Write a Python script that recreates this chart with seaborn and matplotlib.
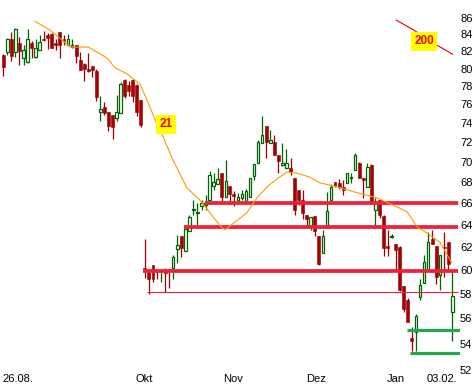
import matplotlib
matplotlib.use('Agg')
import matplotlib.pyplot as plt
import seaborn as sns
import pandas as pd
from matplotlib.ticker import FixedLocator, NullLocator

opens = [81.6, 81.9, 83.5, 81.9, 83.0, 81.2, 80.8, 83.0, 81.3, 82.2,
         83.5, 83.9, 84.1, 83.0, 84.3, 83.4, 82.7, 82.5, 82.8, 81.0,
         80.5, 80.0, 80.3, 79.7, 75.2, 75.7, 75.2, 74.9, 74.5, 75.1,
         78.7, 78.1, 78.7, 78.1, 76.5, 60.2, 59.8, 60.4, 60.0, 59.9,
         59.9, 60.1, 60.2, 61.8, 63.0, 61.6, 63.4, 65.4, 65.1, 65.7,
         65.8, 66.3, 67.6, 67.8, 68.9, 66.6, 67.6, 66.9, 66.3, 66.5,
         66.1, 66.6, 68.6, 69.9, 71.9, 73.7, 71.9, 72.0, 70.7, 69.7,
         69.4, 69.4, 68.4, 67.3, 66.3, 64.9, 63.8, 64.8, 63.0, 61.5,
         63.8, 66.3, 68.0, 67.9, 67.5, 67.9, 68.4, 69.2, 69.9, 68.4,
         67.5, 69.7, 65.4, 66.3, 64.8, 62.1, 62.9, 62.3, 62.0, 58.6,
         57.5, 54.4, 54.9, 57.7, 58.9, 60.0, 62.7, 62.1, 59.6, 62.0,
         62.4, 56.5]
highs = [81.7, 83.6, 84.3, 84.8, 83.7, 82.7, 84.7, 83.2, 83.4, 83.9,
         84.4, 84.2, 84.2, 83.5, 84.3, 83.9, 84.0, 83.4, 82.8, 81.9,
         80.6, 81.8, 80.3, 80.0, 76.9, 76.3, 75.2, 74.9, 77.0, 78.5,
         78.8, 78.6, 78.8, 78.3, 76.5, 62.7, 59.9, 60.4, 60.0, 60.1,
         60.2, 60.1, 61.3, 63.1, 63.0, 64.0, 64.9, 66.3, 66.0, 66.3,
         66.8, 69.1, 68.9, 69.4, 68.9, 70.2, 67.6, 67.2, 67.0, 67.3,
         67.4, 68.4, 69.8, 72.2, 74.8, 73.7, 73.3, 72.8, 70.7, 71.9,
         71.3, 70.4, 68.4, 67.3, 67.3, 64.9, 64.7, 64.8, 63.0, 63.5,
         67.1, 67.8, 68.0, 68.3, 68.2, 68.9, 68.9, 70.9, 70.0, 68.4,
         69.9, 69.8, 66.5, 66.4, 64.9, 63.5, 63.2, 62.3, 62.1, 58.6,
         57.6, 55.3, 56.3, 59.2, 61.3, 63.3, 63.5, 62.1, 61.3, 63.3,
         62.4, 60.0]
lows = [79.2, 81.6, 80.9, 81.3, 80.4, 80.4, 80.7, 81.2, 81.2, 82.2,
        83.2, 82.3, 82.4, 82.2, 81.2, 82.8, 82.7, 82.4, 80.6, 79.8,
        78.6, 79.6, 79.0, 76.4, 74.2, 74.9, 73.2, 72.3, 74.2, 75.1,
        76.7, 76.9, 76.3, 74.8, 73.6, 59.3, 58.0, 59.0, 59.2, 59.0,
        58.1, 58.5, 59.2, 60.6, 61.1, 61.6, 63.4, 64.9, 64.0, 65.4,
        65.4, 66.3, 67.3, 67.8, 66.1, 66.6, 66.1, 65.7, 66.1, 66.3,
        66.1, 66.6, 68.2, 69.9, 71.9, 70.4, 71.9, 70.7, 68.9, 69.6,
        69.4, 68.7, 64.9, 65.8, 64.5, 63.8, 63.5, 63.0, 60.4, 61.5,
        63.8, 66.3, 67.5, 67.4, 66.8, 67.9, 67.9, 69.2, 68.4, 66.5,
        67.5, 66.0, 63.7, 64.6, 61.2, 61.2, 62.8, 60.0, 58.2, 56.5,
        55.7, 53.4, 53.4, 57.5, 58.9, 60.0, 62.3, 58.8, 58.3, 59.4,
        60.0, 54.2]
closes = [80.2, 83.5, 81.5, 84.7, 82.0, 82.2, 83.5, 82.4, 82.4, 83.1,
          83.3, 83.6, 82.4, 82.8, 82.7, 83.2, 83.5, 82.7, 81.4, 79.8,
          80.0, 79.7, 79.8, 76.8, 75.5, 75.1, 73.7, 73.6, 75.2, 78.3,
          76.9, 77.5, 76.9, 75.2, 73.8, 59.9, 59.2, 59.2, 59.8, 60.0,
          59.7, 59.9, 61.1, 62.2, 61.9, 63.6, 64.7, 65.5, 65.2, 66.0,
          66.0, 68.7, 68.0, 68.3, 66.6, 68.1, 66.9, 66.7, 66.6, 66.9,
          67.2, 68.4, 69.8, 72.0, 72.8, 72.0, 72.2, 70.7, 70.1, 69.9,
          69.9, 69.0, 65.4, 66.3, 65.1, 64.5, 64.7, 63.4, 60.5, 63.0,
          65.3, 67.5, 67.6, 67.5, 67.3, 68.9, 68.5, 70.7, 68.4, 68.2,
          69.5, 66.1, 66.0, 64.9, 61.9, 61.9, 63.0, 61.7, 58.3, 56.7,
          55.7, 54.2, 56.2, 58.7, 60.7, 62.4, 62.3, 59.4, 61.3, 61.9,
          60.5, 57.8]

# gleitende Durchschnitte
ma21_idx = [7.8, 11.5, 14.5, 16.5, 21.0, 23.2, 25.7, 27.6, 30.6, 33.8,
            35.5, 38.0, 39.5, 41.95, 45.4, 48.6, 51.1, 53.6, 54.8, 56.8,
            60.2, 62.7, 65.2, 67.7, 70.1, 72.6, 75.8, 78.3, 82.5, 86.5,
            92.4, 97.3, 99.8, 102.3, 104.7, 107.96, 110.9]
ma21_val = [85.6, 84.55, 83.35, 82.5, 82.5, 81.9, 81.2, 80.1, 79.4, 78.25,
            76.5, 73.9, 72.55, 70.2, 67.45, 66.3, 65.1, 63.9, 63.55, 64.1,
            65.1, 66.5, 67.55, 68.35, 69.0, 68.9, 68.5, 67.95, 67.55, 67.1,
            66.5, 65.65, 65.2, 63.8, 63.25, 62.4, 60.6]
ma200_idx = [97.1, 101.4, 107.1, 111.1]
ma200_val = [85.75, 84.55, 82.75, 81.65]

# Unterstützungen / Widerstände
red_levels = [66.0, 63.8, 59.9]
red_from = [49.9, 44.7, 34.5]
thin_level = 58.1
thin_from = 35.5
green_levels = [55.05, 53.3]
green_from = [99.8, 100.5]

date_pos = [3.5, 34.9, 56.7, 77.3, 97.0, 108.4]
date_labels = ['26.08.', 'Okt', 'Nov', 'Dez', 'Jan', '03.02.']
y_ticks = list(range(52, 88, 2))

sns.set_style('white')
plt.rcParams['font.family'] = ['Liberation Sans', 'DejaVu Sans']

df = pd.DataFrame({'o': opens, 'h': highs, 'l': lows, 'c': closes})
df['i'] = range(len(df))
up = df['c'] >= df['o']
dn = ~up

fig = plt.figure(figsize=(4.74, 3.92), dpi=100)
ax = fig.add_axes([0, 0.0561, 0.9705, 0.9186])
ax.set_yscale('log')

# Dochte
ax.vlines(df['i'][up], df['l'][up], df['h'][up], color='#006400', lw=0.9, zorder=2)
ax.vlines(df['i'][dn], df['l'][dn], df['h'][dn], color='#a00000', lw=0.9, zorder=2)
# Kerzenkoerper
ax.bar(df['i'][up], (df['c'] - df['o'])[up], bottom=df['o'][up], width=0.62,
       facecolor='white', edgecolor='#006400', linewidth=0.9, zorder=3)
ax.bar(df['i'][dn], (df['o'] - df['c'])[dn], bottom=df['c'][dn], width=0.72,
       color='#a80000', edgecolor='#900000', linewidth=0.4, zorder=3)

# Linien
for lv, x0 in zip(red_levels, red_from):
    ax.hlines(lv, x0, 112.3, color='#f0203a', lw=2.7, zorder=4)
ax.hlines(thin_level, thin_from, 112.5, color='#f0203a', lw=0.8, zorder=4)
for lv, x0 in zip(green_levels, green_from):
    ax.hlines(lv, x0, 112.9, color='#22aa4a', lw=2.3, zorder=4)

sns.lineplot(x=ma21_idx, y=ma21_val, color='#ff9900', lw=0.8, ax=ax, zorder=5)
sns.lineplot(x=ma200_idx, y=ma200_val, color='#ee0000', lw=0.8, ax=ax, zorder=5)

ax.text(40.2, 73.9, '21', ha='center', va='center', color='#ff0000',
        fontweight='bold', fontsize=8.5, zorder=6,
        bbox=dict(boxstyle='square,pad=0.3', fc='#ffff00', ec='none'))
ax.text(104.0, 83.2, '200', ha='center', va='center', color='#ff0000',
        fontweight='bold', fontsize=8.5, zorder=6,
        bbox=dict(boxstyle='square,pad=0.3', fc='#ffff00', ec='none'))

ax.set_xlim(-0.816, 112.9)
ax.set_ylim(52, 87)
ax.yaxis.set_major_locator(FixedLocator(y_ticks))
ax.yaxis.set_minor_locator(NullLocator())
ax.set_yticklabels([str(t) for t in y_ticks])
ax.yaxis.tick_right()
ax.set_xticks(date_pos)
ax.set_xticklabels(date_labels)
ax.tick_params(axis='y', length=0, pad=0, labelsize=8, colors='black')
ax.tick_params(axis='x', length=0, pad=3, labelsize=8, colors='black')
ax.set_xlabel('')
ax.set_ylabel('')
for s in ax.spines.values():
    s.set_visible(False)

fig.savefig('out.png', dpi=100)
